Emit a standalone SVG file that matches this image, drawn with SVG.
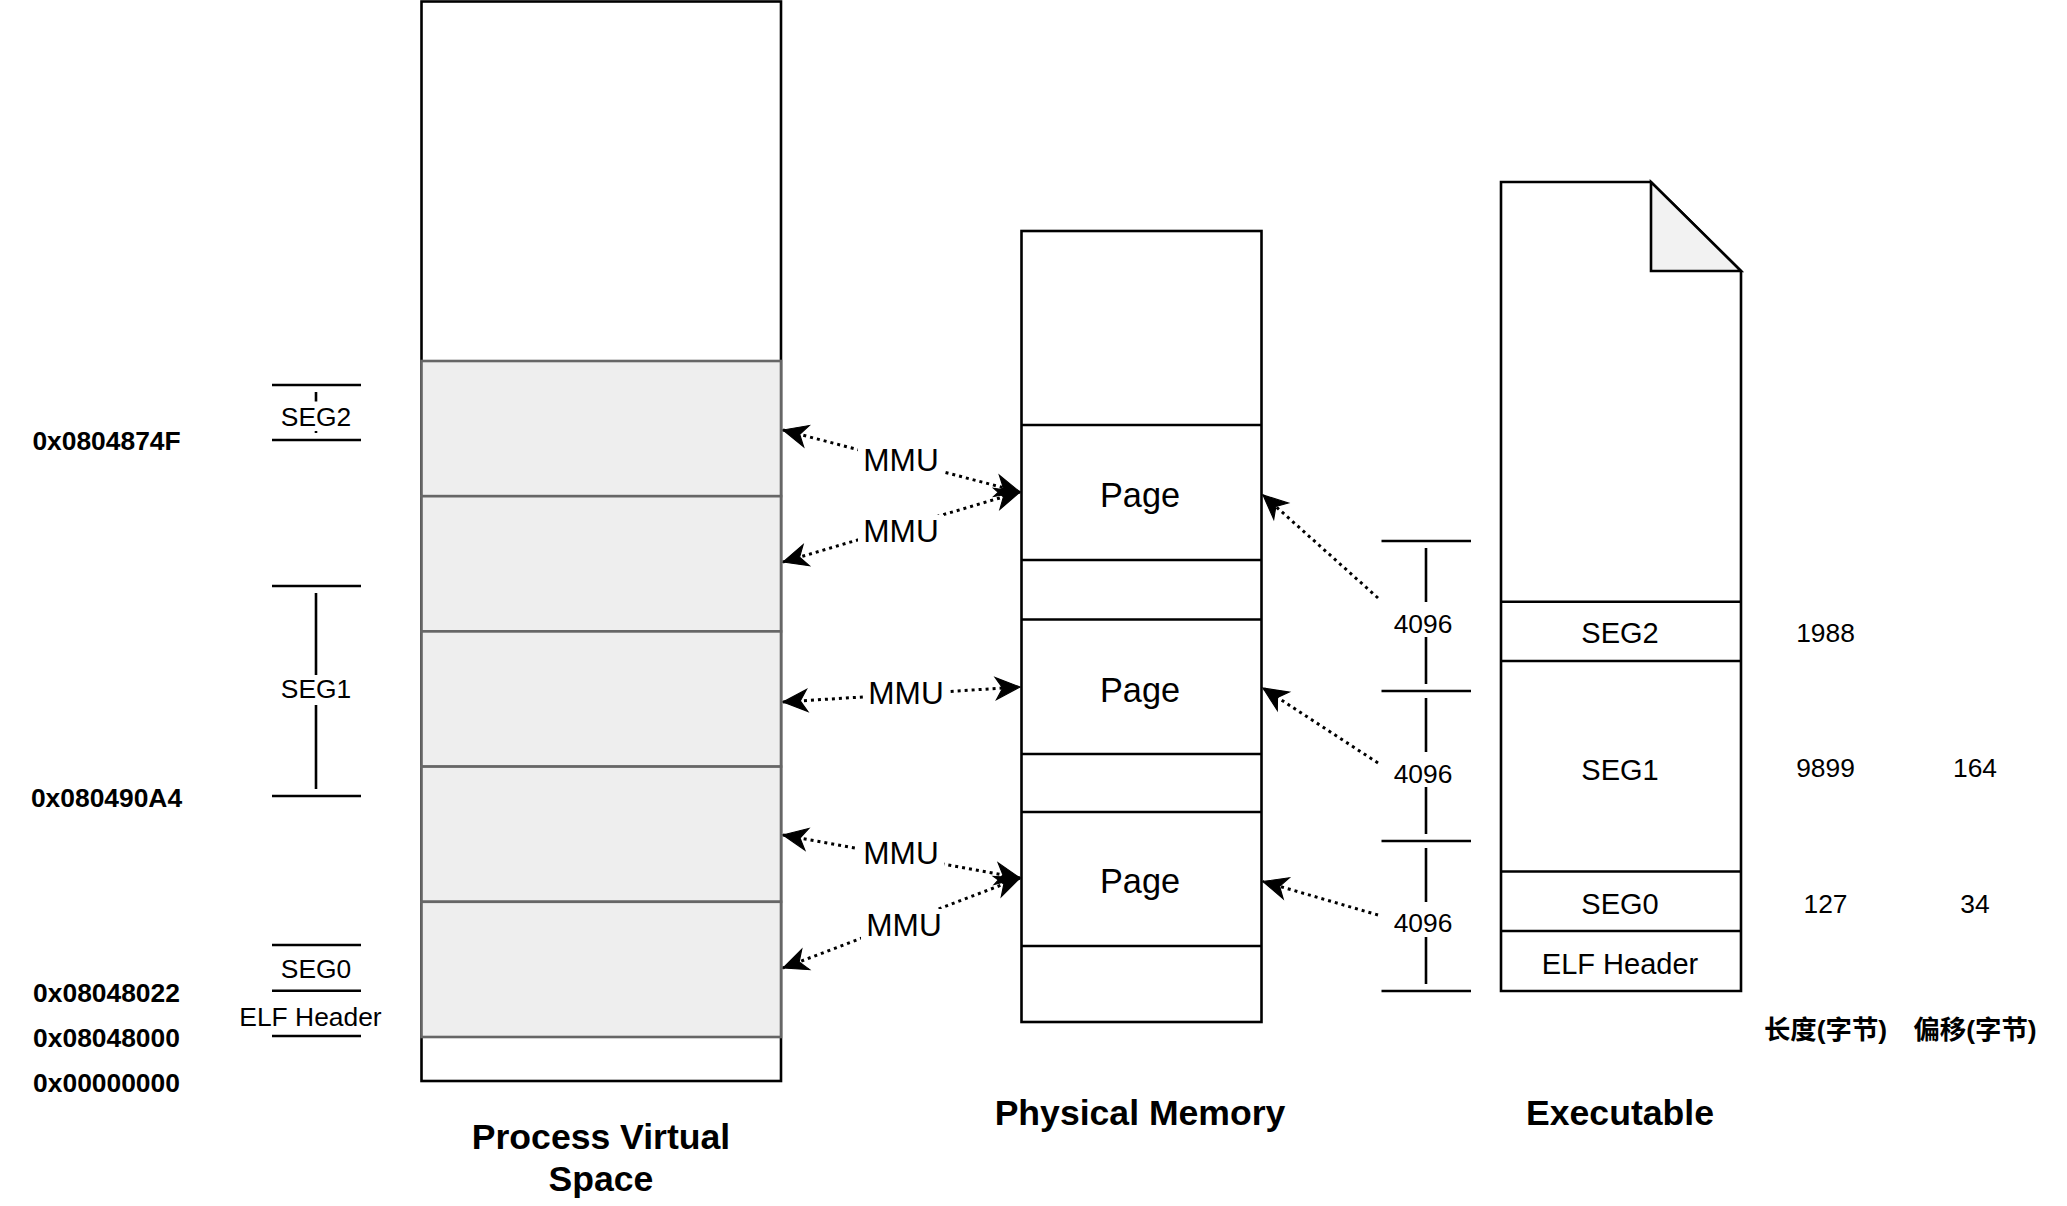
<svg xmlns="http://www.w3.org/2000/svg" width="2067" height="1206" viewBox="0 0 2067 1206">
<style>
.box{fill:#ffffff;stroke:#000000;stroke-width:2.6}
.seg{fill:#eeeeee;stroke:#666666;stroke-width:2.6}
.ln{stroke:#000000;stroke-width:2.6;fill:none}
.t{font-family:"Liberation Sans",Arial,sans-serif;font-size:26.4px;fill:#000000;text-anchor:middle}
.e{font-family:"Liberation Sans",Arial,sans-serif;font-size:29px;fill:#000000;text-anchor:middle}
.b{font-weight:bold}
.big{font-family:"Liberation Sans",Arial,sans-serif;font-size:35.6px;font-weight:bold;fill:#000000;text-anchor:middle}
.pg{font-family:"Liberation Sans",Arial,sans-serif;font-size:34.3px;fill:#000000;text-anchor:middle}
.mmu{font-family:"Liberation Sans",Arial,sans-serif;font-size:31.6px;fill:#000000;text-anchor:middle}
.cjk{font-family:"Liberation Sans","Noto Sans CJK SC",sans-serif;font-size:26.4px;font-weight:bold;fill:#000000;text-anchor:middle}
.dot{stroke:#000000;stroke-width:3;fill:none;stroke-dasharray:3 4}
.bg{fill:#ffffff;stroke:none}
</style>
<defs>
<marker id="arr" markerUnits="userSpaceOnUse" markerWidth="30" markerHeight="30" viewBox="-24 -12 26 24" refX="0" refY="0" orient="auto-start-reverse">
<path d="M0,0 L-21,-9.5 L-15,0 L-21,9.5 Z" fill="#000000" stroke="#000000" stroke-width="1"/>
</marker>
</defs>
<rect width="2067" height="1206" fill="#ffffff"/>

<g id="virtual-space">
<rect class="box" x="421.5" y="1.5" width="359.5" height="1079.5"/>
<rect class="seg" x="421.5" y="361" width="359.5" height="135.2"/>
<rect class="seg" x="421.5" y="496.2" width="359.5" height="135.2"/>
<rect class="seg" x="421.5" y="631.4" width="359.5" height="135.2"/>
<rect class="seg" x="421.5" y="766.6" width="359.5" height="135.2"/>
<rect class="seg" x="421.5" y="901.8" width="359.5" height="135.2"/>
</g>

<g id="addr-labels">
<text class="t b" x="106.5" y="450">0x0804874F</text>
<text class="t b" x="106.5" y="807">0x080490A4</text>
<text class="t b" x="106.5" y="1002">0x08048022</text>
<text class="t b" x="106.5" y="1047">0x08048000</text>
<text class="t b" x="106.5" y="1092">0x00000000</text>
</g>

<g id="vseg2">
<line class="ln" x1="272" y1="385" x2="361" y2="385"/>
<line class="ln" x1="272" y1="440" x2="361" y2="440"/>
<line class="ln" x1="316" y1="392" x2="316" y2="433"/>
<rect class="bg" x="278" y="401.5" width="76" height="29.5"/>
<text class="t" x="316" y="425.7">SEG2</text>
</g>
<g id="vseg1">
<line class="ln" x1="272" y1="586" x2="361" y2="586"/>
<line class="ln" x1="272" y1="796" x2="361" y2="796"/>
<line class="ln" x1="316" y1="593" x2="316" y2="789"/>
<rect class="bg" x="280" y="675" width="72" height="30"/>
<text class="t" x="316" y="698.3">SEG1</text>
</g>
<g id="vseg0">
<line class="ln" x1="272" y1="945" x2="361" y2="945"/>
<line class="ln" x1="272" y1="990.7" x2="361" y2="990.7"/>
<text class="t" x="316" y="977.7">SEG0</text>
</g>
<g id="velf">
<line class="ln" x1="272" y1="1036" x2="361" y2="1036"/>
<text class="t" x="310.5" y="1026">ELF Header</text>
</g>

<g id="physical-memory">
<rect class="box" x="1021.5" y="231" width="240" height="791"/>
<line class="ln" x1="1021.5" y1="425" x2="1261.5" y2="425"/>
<line class="ln" x1="1021.5" y1="560" x2="1261.5" y2="560"/>
<line class="ln" x1="1021.5" y1="619.5" x2="1261.5" y2="619.5"/>
<line class="ln" x1="1021.5" y1="754" x2="1261.5" y2="754"/>
<line class="ln" x1="1021.5" y1="812" x2="1261.5" y2="812"/>
<line class="ln" x1="1021.5" y1="946" x2="1261.5" y2="946"/>
</g>
<g id="page1"><text class="pg" x="1140" y="506.7">Page</text></g>
<g id="page2"><text class="pg" x="1140" y="701.7">Page</text></g>
<g id="page3"><text class="pg" x="1140" y="893">Page</text></g>

<g id="dims">
<line class="ln" x1="1381.5" y1="541" x2="1471" y2="541"/>
<line class="ln" x1="1381.5" y1="691" x2="1471" y2="691"/>
<line class="ln" x1="1381.5" y1="841" x2="1471" y2="841"/>
<line class="ln" x1="1381.5" y1="991" x2="1471" y2="991"/>
<line class="ln" x1="1426" y1="548" x2="1426" y2="684"/>
<line class="ln" x1="1426" y1="698" x2="1426" y2="834"/>
<line class="ln" x1="1426" y1="848" x2="1426" y2="984"/>
<rect class="bg" x="1390" y="602" width="66" height="35"/>
<rect class="bg" x="1390" y="752" width="66" height="35"/>
<rect class="bg" x="1390" y="902" width="66" height="35"/>
<text class="t" x="1423" y="633">4096</text>
<text class="t" x="1423" y="782.7">4096</text>
<text class="t" x="1423" y="932.3">4096</text>
</g>

<g id="executable">
<path d="M1501,182 L1651,182 L1741,271 L1741,991 L1501,991 Z" fill="#ffffff" stroke="#000000" stroke-width="2.6" stroke-linejoin="miter"/>
<path d="M1651,182 L1651,271 L1741,271 Z" fill="#f2f2f2" stroke="#000000" stroke-width="2.6"/>
<line class="ln" x1="1501" y1="601.7" x2="1741" y2="601.7"/>
<line class="ln" x1="1501" y1="661" x2="1741" y2="661"/>
<line class="ln" x1="1501" y1="871.5" x2="1741" y2="871.5"/>
<line class="ln" x1="1501" y1="931" x2="1741" y2="931"/>
<text class="e" x="1620" y="643.3">SEG2</text>
<text class="e" x="1620" y="780">SEG1</text>
<text class="e" x="1620" y="914">SEG0</text>
<text class="e" x="1620" y="974">ELF Header</text>
</g>

<g id="table">
<text class="t" x="1825.5" y="642">1988</text>
<text class="t" x="1825.5" y="776.7">9899</text>
<text class="t" x="1975" y="776.7">164</text>
<text class="t" x="1825.5" y="912.7">127</text>
<text class="t" x="1975" y="912.7">34</text>
<text class="cjk" x="1825.5" y="1039">长度(字节)</text>
<text class="cjk" x="1975" y="1039">偏移(字节)</text>
</g>

<g id="titles">
<text class="big" x="601" y="1149">Process Virtual</text>
<text class="big" x="601" y="1191">Space</text>
<text class="big" x="1140" y="1125">Physical Memory</text>
<text class="big" x="1620" y="1125">Executable</text>
</g>

<g id="connectors">
<line class="dot" x1="783" y1="430" x2="1020" y2="492" marker-start="url(#arr)" marker-end="url(#arr)"/>
<line class="dot" x1="1020" y1="492" x2="783" y2="562" marker-start="url(#arr)" marker-end="url(#arr)"/>
<line class="dot" x1="783" y1="702" x2="1020" y2="687" marker-start="url(#arr)" marker-end="url(#arr)"/>
<line class="dot" x1="783" y1="835" x2="1020" y2="878" marker-start="url(#arr)" marker-end="url(#arr)"/>
<line class="dot" x1="1020" y1="878" x2="783" y2="968" marker-start="url(#arr)" marker-end="url(#arr)"/>
<line class="dot" x1="1378" y1="598" x2="1263" y2="495" marker-end="url(#arr)"/>
<line class="dot" x1="1378" y1="763" x2="1263" y2="688" marker-end="url(#arr)"/>
<line class="dot" x1="1378" y1="915" x2="1263" y2="881.5" marker-end="url(#arr)"/>
<rect class="bg" x="858" y="443" width="86" height="32"/>
<text class="mmu" x="901" y="470.7">MMU</text>
<rect class="bg" x="858" y="515" width="86" height="32"/>
<text class="mmu" x="901" y="542.3">MMU</text>
<rect class="bg" x="863" y="677" width="86" height="32"/>
<text class="mmu" x="906" y="704">MMU</text>
<rect class="bg" x="858" y="837" width="86" height="32"/>
<text class="mmu" x="901" y="864">MMU</text>
<rect class="bg" x="861" y="909" width="86" height="32"/>
<text class="mmu" x="904" y="935.7">MMU</text>
</g>
</svg>
